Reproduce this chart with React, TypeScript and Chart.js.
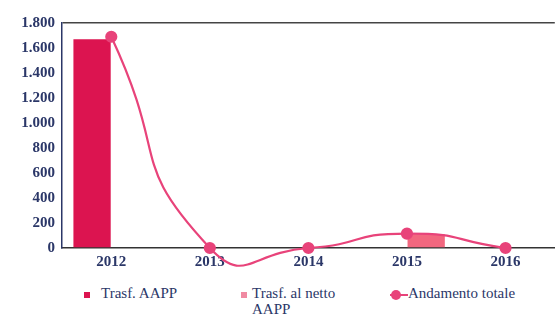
import React, { useEffect, useRef } from "react";
import { Chart, registerables } from "chart.js";

Chart.register(...registerables);

const categories = ["2012", "2013", "2014", "2015", "2016"];
const trasfAAPP = [1670, 0, 0, 0, 0];
const trasfNettoAAPP = [0, 0, 0, 110, 0];
const andamentoTotale = [1690, 0, 0, 115, 0];
const yTicks = [0, 200, 400, 600, 800, 1000, 1200, 1400, 1600, 1800];

const NAVY = "#2b3768";
const C1 = "#dc1450";
const C2 = "#f2677f";
const C3 = "#e8437a";
const SERIF = "'Liberation Serif', 'Times New Roman', serif";

function fmt(v: number) {
  const s = String(Math.round(v));
  return s.replace(/\B(?=(\d{3})+(?!\d))/g, ".");
}

export default function App() {
  const ref = useRef<HTMLCanvasElement | null>(null);
  useEffect(() => {
    if (!ref.current) return;
    const chart = new Chart(ref.current, {
      data: {
        labels: categories,
        datasets: [
          {
            type: "line",
            label: "Andamento totale",
            data: andamentoTotale,
            borderColor: C3,
            backgroundColor: C3,
            borderWidth: 2.2,
            pointRadius: 5,
            pointBackgroundColor: C3,
            pointBorderColor: C3,
            tension: 0.6,
            capBezierPoints: false,
            clip: false,
            order: 0,
          } as any,
          {
            type: "bar",
            label: "Trasf. AAPP",
            data: trasfAAPP,
            backgroundColor: C1,
            categoryPercentage: 0.78,
            barPercentage: 0.97,
            order: 1,
          },
          {
            type: "bar",
            label: "Trasf. al netto AAPP",
            data: trasfNettoAAPP,
            backgroundColor: C2,
            categoryPercentage: 0.78,
            barPercentage: 0.97,
            order: 1,
          },
        ],
      },
      options: {
        responsive: false,
        animation: false,
        layout: { padding: { top: 23, right: 0, left: 0, bottom: 0 } },
        elements: { line: { capBezierPoints: false } },
        plugins: { legend: { display: false }, tooltip: { enabled: false }, title: { display: false } },
        scales: {
          x: {
            offset: true,
            grid: { display: false, drawTicks: false },
            border: { display: true, color: "#333", width: 1.5 },
            ticks: {
              color: NAVY,
              font: { family: SERIF, size: 15, weight: "bold" },
              padding: 5,
            },
            afterFit: (s: any) => {
              s.height = 27;
            },
          },
          y: {
            min: 0,
            max: 1800,
            afterBuildTicks: (s: any) => {
              s.ticks = yTicks.map((v) => ({ value: v }));
            },
            grid: {
              drawTicks: false,
              color: (c: any) => (c.tick && c.tick.value === 1800 ? "#444" : "rgba(0,0,0,0)"),
              lineWidth: 1.5,
            },
            border: { display: true, color: NAVY, width: 1.5 },
            ticks: {
              color: NAVY,
              font: { family: SERIF, size: 15, weight: "bold" },
              padding: 7,
              callback: (v: any) => fmt(Number(v)),
            },
            afterFit: (s: any) => {
              s.width = 62;
            },
          },
        },
      },
    });
    return () => chart.destroy();
  }, []);

  const legendText: React.CSSProperties = {
    position: "absolute",
    fontFamily: SERIF,
    fontSize: 15,
    color: NAVY,
    lineHeight: "16px",
    whiteSpace: "nowrap",
  };

  return (
    <div style={{ position: "fixed", left: 0, top: 0, width: 557, height: 320, background: "#fff", overflow: "hidden" }}>
      <canvas ref={ref} width={562} height={275} style={{ position: "absolute", left: 0, top: 0 }} />
      <div style={{ position: "absolute", left: 84, top: 292, width: 6, height: 6, background: C1 }} />
      <div style={{ ...legendText, left: 101, top: 285 }}>Trasf. AAPP</div>
      <div style={{ position: "absolute", left: 241, top: 292, width: 6, height: 6, background: "#f08aa2" }} />
      <div style={{ ...legendText, left: 252, top: 285 }}>
        Trasf. al netto
        <br />
        AAPP
      </div>
      <div style={{ position: "absolute", left: 390, top: 294, width: 18, height: 2, background: C3 }} />
      <div style={{ position: "absolute", left: 391, top: 290, width: 10, height: 10, borderRadius: 5, background: C3 }} />
      <div style={{ ...legendText, left: 408, top: 285 }}>Andamento totale</div>
    </div>
  );
}
